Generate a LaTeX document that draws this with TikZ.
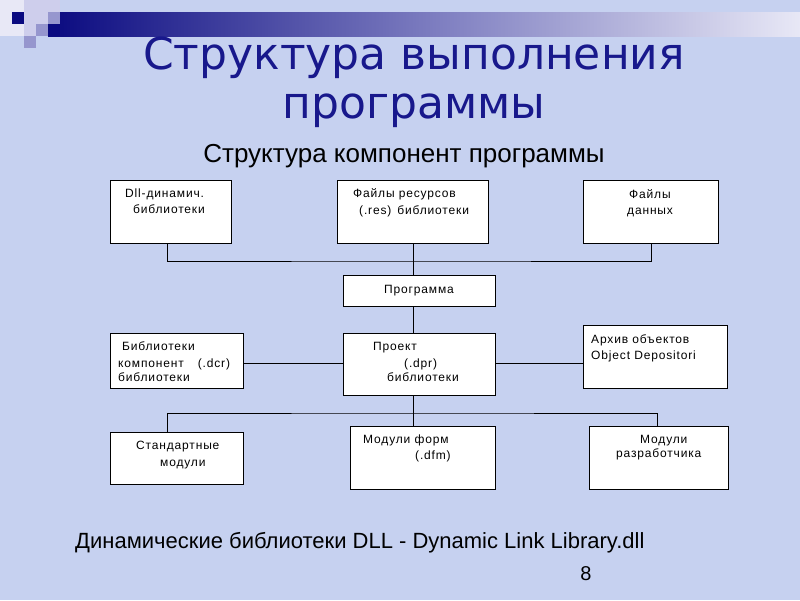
\documentclass[tikz,border=0pt]{standalone}
\usepackage{fontspec}
\setmainfont{Liberation Sans}
\newfontfamily\titlefont{DejaVu Sans}
\newfontfamily\boxfont[LetterSpace=7]{Liberation Sans}
\usetikzlibrary{calc}
\definecolor{bgcol}{RGB}{198,209,240}
\definecolor{titleblue}{RGB}{24,24,140}
\definecolor{navy}{RGB}{10,10,128}
\definecolor{lav1}{RGB}{232,232,246}
\definecolor{lav2}{RGB}{206,206,236}
\definecolor{lav3}{RGB}{150,150,206}
\tikzset{
  box/.style={draw=black, fill=white, line width=0.9pt, inner sep=0pt},
  lbl/.style={anchor=base west, inner sep=0pt, font=\boxfont\fontsize{12}{14}\selectfont},
  conn/.style={draw=black, line width=0.9pt}
}
\newcommand\bx[5]{\node[box, minimum width={#4-#2}, minimum height={#5-#3}] (#1) at ({(#2+#4)/2},{(#3+#5)/2}) {};}
\begin{document}
\begin{tikzpicture}[x=1pt,y=-1pt]
\useasboundingbox (0,0) rectangle (800,600);
\fill[bgcol] (0,0) rectangle (800,600);
% decoration
\shade[left color=navy, right color=lav1, middle color=lav3!80!navy, shading=axis] (48,12) rectangle (800,36);
\fill[navy] (48,24) rectangle (60,36);
\fill[lav1] (0,0) rectangle (24,36);
\fill[navy] (12,12) rectangle (24,24);
\fill[lav2] (24,0) rectangle (48,24);
\fill[lav2] (48,0) rectangle (60,12);
\fill[lav3] (48,12) rectangle (60,24);
\fill[lav2] (24,24) rectangle (36,36);
\fill[lav3] (36,24) rectangle (48,36);
\fill[lav3] (24,36) rectangle (36,48);
% titles
\node[anchor=base, inner sep=0pt, text=titleblue, font=\titlefont\fontsize{44}{50}\selectfont] (title1) at (414,69) {Структура выполнения};
\node[anchor=base, inner sep=0pt, text=titleblue, font=\titlefont\fontsize{44}{50}\selectfont] (title2) at (414,118) {программы};
\node[anchor=base, inner sep=0pt, font=\fontsize{26}{30}\selectfont] (sub) at (404,162) {Структура компонент программы};
% boxes
\bx{dll}{110}{180}{231}{243}
\bx{res}{337}{180}{488}{243}
\bx{data}{583}{180}{718}{243}
\bx{prog}{343}{275}{495}{306}
\bx{lib}{110}{333}{243}{388}
\bx{proj}{343}{333}{495}{395}
\bx{arch}{583}{325}{727}{388}
\bx{std}{110}{432}{243}{484}
\bx{form}{350}{426}{495}{489}
\bx{dev}{589}{426}{728}{489}
% connectors
\coordinate (bus1) at (413,261);
\coordinate (bus2) at (413,413);
\draw[conn] ($(dll.south west)+(58,0)$) |- (bus1) -| ($(data.south west)+(69,0)$);
\draw[conn] (res.south -| bus1) -- (prog.north -| bus1);
\draw[conn] (prog.south -| bus1) -- (proj.north -| bus1);
\draw[conn] (proj.west |- 0,363) -- (lib.east |- 0,363);
\draw[conn] (proj.east |- 0,363) -- (arch.west |- 0,363);
\draw[conn] (proj.south -| bus2) -- (form.north -| bus2);
\draw[conn] ($(std.north west)+(58,0)$) |- (bus2) -| ($(dev.north west)+(69,0)$);
% box texts
\node[lbl] (t1a) at (125,197) {Dll-динамич.};
\node[lbl] (t1b) at (133,213) {библиотеки};
\node[lbl] (t2a) at (353,197) {Файлы ресурсов};
\node[lbl] (t2b) at (359,214) {(.res)\hspace{6pt}библиотеки};
\node[lbl] (t3a) at (629,198) {Файлы};
\node[lbl] (t3b) at (627,214) {данных};
\node[lbl] (t4a) at (384,293) {Программа};
\node[lbl] (t5a) at (122,350) {Библиотеки};
\node[lbl] (t5b) at (118,367) {компонент\hspace{14pt}(.dcr)};
\node[lbl] (t5c) at (118,381) {библиотеки};
\node[lbl] (t6a) at (373,350) {Проект};
\node[lbl] (t6b) at (404,367) {(.dpr)};
\node[lbl] (t6c) at (387,381) {библиотеки};
\node[lbl] (t7a) at (591,343) {Архив объектов};
\node[lbl] (t7b) at (591,359) {Object Depositori};
\node[lbl] (t8a) at (136,449) {Стандартные};
\node[lbl] (t8b) at (160,466) {модули};
\node[lbl] (t9a) at (363,443) {Модули форм};
\node[lbl] (t9b) at (415,459) {(.dfm)};
\node[lbl] (t10a) at (640,443) {Модули};
\node[lbl] (t10b) at (616,457) {разработчика};
% bottom
\node[anchor=base west, inner sep=0pt, font=\fontsize{22}{26}\selectfont] (foot) at (75,548) {Динамические библиотеки DLL - Dynamic Link Library.dll};
\node[anchor=base, inner sep=0pt, font=\fontsize{20}{24}\selectfont] (page) at (586,580) {8};
\end{tikzpicture}
\end{document}
